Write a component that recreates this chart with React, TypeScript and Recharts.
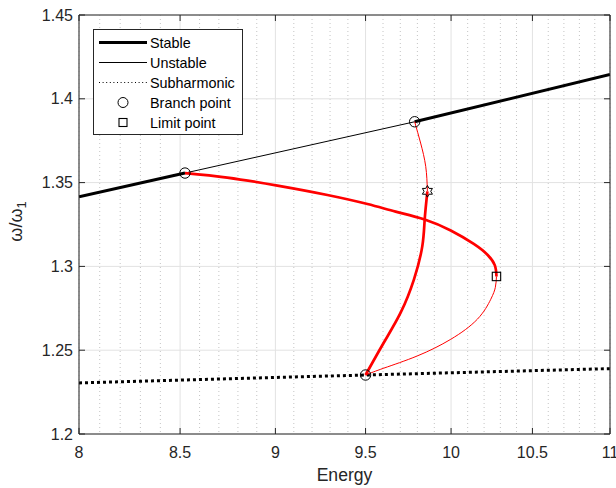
import React from 'react';
import {
  ComposedChart,
  Line,
  Scatter,
  XAxis,
  YAxis,
  CartesianGrid,
  ReferenceLine,
  Legend,
} from 'recharts';

// ---- Axis ticks ----
const energyMajorTicks = [8, 8.5, 9, 9.5, 10, 10.5, 11];
const energyMinorTicks = [
  8.1, 8.2, 8.3, 8.4, 8.6, 8.7, 8.8, 8.9, 9.1, 9.2, 9.3, 9.4, 9.6, 9.7, 9.8, 9.9,
  10.1, 10.2, 10.3, 10.4, 10.6, 10.7, 10.8, 10.9,
];
const freqTicks = [1.2, 1.25, 1.3, 1.35, 1.4, 1.45];

// ---- Primary backbone (black) ----
const backboneStableLow = [
  { x: 8, y: 1.3415 },
  { x: 8.525, y: 1.3557 },
];
const backboneUnstable = [
  { x: 8.525, y: 1.3557 },
  { x: 9.784, y: 1.3863 },
];
const backboneStableHigh = [
  { x: 9.784, y: 1.3863 },
  { x: 11, y: 1.4145 },
];

// ---- Subharmonic branch (dotted) ----
const subharmonicBranch = [
  { x: 8, y: 1.2305 },
  { x: 9.5, y: 1.2352 },
  { x: 11, y: 1.239 },
];

// ---- Secondary branches (red) ----
const upperStable = [
  { x: 8.525, y: 1.3557 },
  { x: 8.744, y: 1.353 },
  { x: 9.011, y: 1.3482 },
  { x: 9.285, y: 1.3426 },
  { x: 9.511, y: 1.3372 },
  { x: 9.673, y: 1.3327 },
  { x: 9.843, y: 1.328 },
  { x: 9.998, y: 1.3214 },
  { x: 10.137, y: 1.3134 },
  { x: 10.222, y: 1.3068 },
  { x: 10.266, y: 1.3006 },
  { x: 10.276, y: 1.294 },
];
const lowerUnstable = [
  { x: 10.276, y: 1.294 },
  { x: 10.269, y: 1.2875 },
  { x: 10.241, y: 1.2804 },
  { x: 10.159, y: 1.2685 },
  { x: 9.998, y: 1.2565 },
  { x: 9.8, y: 1.2466 },
  { x: 9.605, y: 1.2393 },
  { x: 9.5, y: 1.2352 },
];
const crossUnstable = [
  { x: 9.784, y: 1.3863 },
  { x: 9.819, y: 1.3736 },
  { x: 9.849, y: 1.3597 },
  { x: 9.859, y: 1.3448 },
];
const crossStable = [
  { x: 9.859, y: 1.3448 },
  { x: 9.843, y: 1.328 },
  { x: 9.829, y: 1.3121 },
  { x: 9.78, y: 1.2923 },
  { x: 9.702, y: 1.2724 },
  { x: 9.605, y: 1.2546 },
  { x: 9.5, y: 1.2352 },
];

// ---- Special points ----
const branchPoints = [
  { x: 8.525, y: 1.3557 },
  { x: 9.784, y: 1.3863 },
  { x: 9.5, y: 1.2352 },
];
const limitPoints = [{ x: 10.276, y: 1.294 }];
const stabilityChangePoints = [{ x: 9.859, y: 1.3448 }];

const legendLabels = ['Stable', 'Unstable', 'Subharmonic', 'Branch point', 'Limit point'];

// ---- Layout / style ----
const WIDTH = 616;
const HEIGHT = 488;
const PLOT_LEFT = 79;
const PLOT_RIGHT = 610;
const PLOT_TOP = 15;
const PLOT_BOTTOM = 434;
const AXIS_COLOR = '#262626';
const FONT = '"Liberation Sans", Arial, Helvetica, sans-serif';
const RED = '#ff0000';

const MajorXTick = (props: any) => {
  const { x, payload } = props;
  return (
    <g>
      <line x1={x} x2={x} y1={PLOT_BOTTOM} y2={PLOT_BOTTOM - 6} stroke={AXIS_COLOR} />
      <line x1={x} x2={x} y1={PLOT_TOP} y2={PLOT_TOP + 6} stroke={AXIS_COLOR} />
      <text
        x={x}
        y={PLOT_BOTTOM + 24}
        textAnchor="middle"
        fontSize={16}
        fontFamily={FONT}
        fill={AXIS_COLOR}
      >
        {String(payload.value)}
      </text>
    </g>
  );
};

const MinorXTick = (props: any) => {
  const { x } = props;
  return (
    <g>
      <line x1={x} x2={x} y1={PLOT_BOTTOM} y2={PLOT_BOTTOM - 3.5} stroke={AXIS_COLOR} />
      <line x1={x} x2={x} y1={PLOT_TOP} y2={PLOT_TOP + 3.5} stroke={AXIS_COLOR} />
    </g>
  );
};

const YTick = (props: any) => {
  const { y, payload } = props;
  return (
    <g>
      <line x1={PLOT_LEFT} x2={PLOT_LEFT + 6} y1={y} y2={y} stroke={AXIS_COLOR} />
      <line x1={PLOT_RIGHT} x2={PLOT_RIGHT - 6} y1={y} y2={y} stroke={AXIS_COLOR} />
      <text
        x={PLOT_LEFT - 6}
        y={y}
        textAnchor="end"
        dominantBaseline="central"
        fontSize={16}
        fontFamily={FONT}
        fill={AXIS_COLOR}
      >
        {String(payload.value)}
      </text>
    </g>
  );
};

const YTitle = (props: any) => {
  const vb = props.viewBox || { y: PLOT_TOP, height: PLOT_BOTTOM - PLOT_TOP };
  const cy = vb.y + vb.height / 2 - 3;
  return (
    <text
      transform={`translate(22,${cy}) rotate(-90)`}
      textAnchor="middle"
      fontSize={18}
      fontFamily={FONT}
      fill={AXIS_COLOR}
    >
      ω/ω
      <tspan fontSize={13} dy={4}>
        1
      </tspan>
    </text>
  );
};

const CircleMarker = (props: any) => {
  const { cx, cy } = props;
  return <circle cx={cx} cy={cy} r={5.2} fill="none" stroke="#000" strokeWidth={1} />;
};

const SquareMarker = (props: any) => {
  const { cx, cy } = props;
  return (
    <rect x={cx - 4.2} y={cy - 4.2} width={8.4} height={8.4} fill="none" stroke="#000" strokeWidth={1.1} />
  );
};

const HexagramMarker = (props: any) => {
  const { cx, cy } = props;
  const outer = 5.8;
  const inner = outer / Math.sqrt(3);
  const pts: string[] = [];
  for (let i = 0; i < 12; i++) {
    const r = i % 2 === 0 ? outer : inner;
    const a = (-90 + i * 30) * (Math.PI / 180);
    pts.push(`${cx + r * Math.cos(a)},${cy + r * Math.sin(a)}`);
  }
  return <polygon points={pts.join(' ')} fill="none" stroke="#000" strokeWidth={1} />;
};

const LegendBox = () => {
  const w = 150;
  const h = 106;
  const rowY = (i: number) => 13.5 + 20 * i;
  return (
    <svg width={w} height={h} style={{ display: 'block' }}>
      <rect x={0.5} y={0.5} width={w - 1} height={h - 1} fill="#fff" stroke={AXIS_COLOR} strokeWidth={1} />
      <line x1={6} x2={54} y1={rowY(0)} y2={rowY(0)} stroke="#000" strokeWidth={3} />
      <line x1={6} x2={54} y1={rowY(1)} y2={rowY(1)} stroke="#000" strokeWidth={1} />
      <line x1={6} x2={54} y1={rowY(2)} y2={rowY(2)} stroke="#000" strokeWidth={1} strokeDasharray="1 2.6" />
      <circle cx={30} cy={rowY(3)} r={5} fill="none" stroke="#000" strokeWidth={1} />
      <rect x={26} y={rowY(4) - 4} width={8} height={8} fill="none" stroke="#000" strokeWidth={1.1} />
      {legendLabels.map((label, i) => (
        <text
          key={label}
          x={57}
          y={rowY(i)}
          dominantBaseline="central"
          fontSize={14.4}
          fontFamily={FONT}
          fill="#000"
        >
          {label}
        </text>
      ))}
    </svg>
  );
};

export default function App() {
  return (
    <div style={{ position: 'absolute', left: 0, top: 0, width: WIDTH, height: HEIGHT, background: '#fff' }}>
      <ComposedChart
        width={WIDTH}
        height={HEIGHT}
        margin={{ top: PLOT_TOP, right: WIDTH - PLOT_RIGHT, bottom: 0, left: 0 }}
      >
        <XAxis
          dataKey="x"
          type="number"
          scale="log"
          domain={[8, 11]}
          ticks={energyMajorTicks}
          interval={0}
          allowDataOverflow
          height={HEIGHT - PLOT_BOTTOM}
          tick={<MajorXTick />}
          tickLine={false}
          axisLine={{ stroke: AXIS_COLOR }}
          label={{
            value: 'Energy',
            position: 'insideBottom',
            offset: 7,
            style: { fontSize: 17.6, fontFamily: FONT, fill: AXIS_COLOR },
          }}
        />
        <XAxis
          xAxisId="minor"
          dataKey="x"
          type="number"
          scale="log"
          domain={[8, 11]}
          ticks={energyMinorTicks}
          interval={0}
          allowDataOverflow
          height={0}
          tick={<MinorXTick />}
          tickLine={false}
          axisLine={false}
        />
        <YAxis
          type="number"
          domain={[1.2, 1.45]}
          ticks={freqTicks}
          interval={0}
          allowDataOverflow
          width={PLOT_LEFT}
          tick={<YTick />}
          tickLine={false}
          axisLine={{ stroke: AXIS_COLOR }}
          label={<YTitle />}
        />
        <CartesianGrid xAxisId="minor" horizontal={false} stroke="#c4c4c4" strokeDasharray="1 3" />
        <CartesianGrid stroke="#e2e2e2" />

        <Line data={subharmonicBranch} dataKey="y" type="linear" stroke="#000" strokeWidth={3} strokeDasharray="3 3" dot={false} activeDot={false} isAnimationActive={false} />
        <Line data={backboneStableLow} dataKey="y" type="linear" stroke="#000" strokeWidth={3} dot={false} activeDot={false} isAnimationActive={false} />
        <Line data={backboneUnstable} dataKey="y" type="linear" stroke="#000" strokeWidth={1} dot={false} activeDot={false} isAnimationActive={false} />
        <Line data={backboneStableHigh} dataKey="y" type="linear" stroke="#000" strokeWidth={3} dot={false} activeDot={false} isAnimationActive={false} />
        <Line data={upperStable} dataKey="y" type="natural" stroke={RED} strokeWidth={2.7} dot={false} activeDot={false} isAnimationActive={false} />
        <Line data={lowerUnstable} dataKey="y" type="natural" stroke={RED} strokeWidth={1} dot={false} activeDot={false} isAnimationActive={false} />
        <Line data={crossUnstable} dataKey="y" type="natural" stroke={RED} strokeWidth={1} dot={false} activeDot={false} isAnimationActive={false} />
        <Line data={crossStable} dataKey="y" type="natural" stroke={RED} strokeWidth={2.7} dot={false} activeDot={false} isAnimationActive={false} />

        <Scatter data={branchPoints} dataKey="y" shape={<CircleMarker />} isAnimationActive={false} />
        <Scatter data={limitPoints} dataKey="y" shape={<SquareMarker />} isAnimationActive={false} />
        <Scatter data={stabilityChangePoints} dataKey="y" shape={<HexagramMarker />} isAnimationActive={false} />

        <ReferenceLine y={1.45} stroke={AXIS_COLOR} strokeWidth={1} />
        <ReferenceLine x={11} stroke={AXIS_COLOR} strokeWidth={1} />

        <Legend
          layout="vertical"
          align="center"
          verticalAlign="middle"
          wrapperStyle={{ left: 93, top: 29, width: 150, height: 106 }}
          content={<LegendBox />}
        />
      </ComposedChart>
    </div>
  );
}
